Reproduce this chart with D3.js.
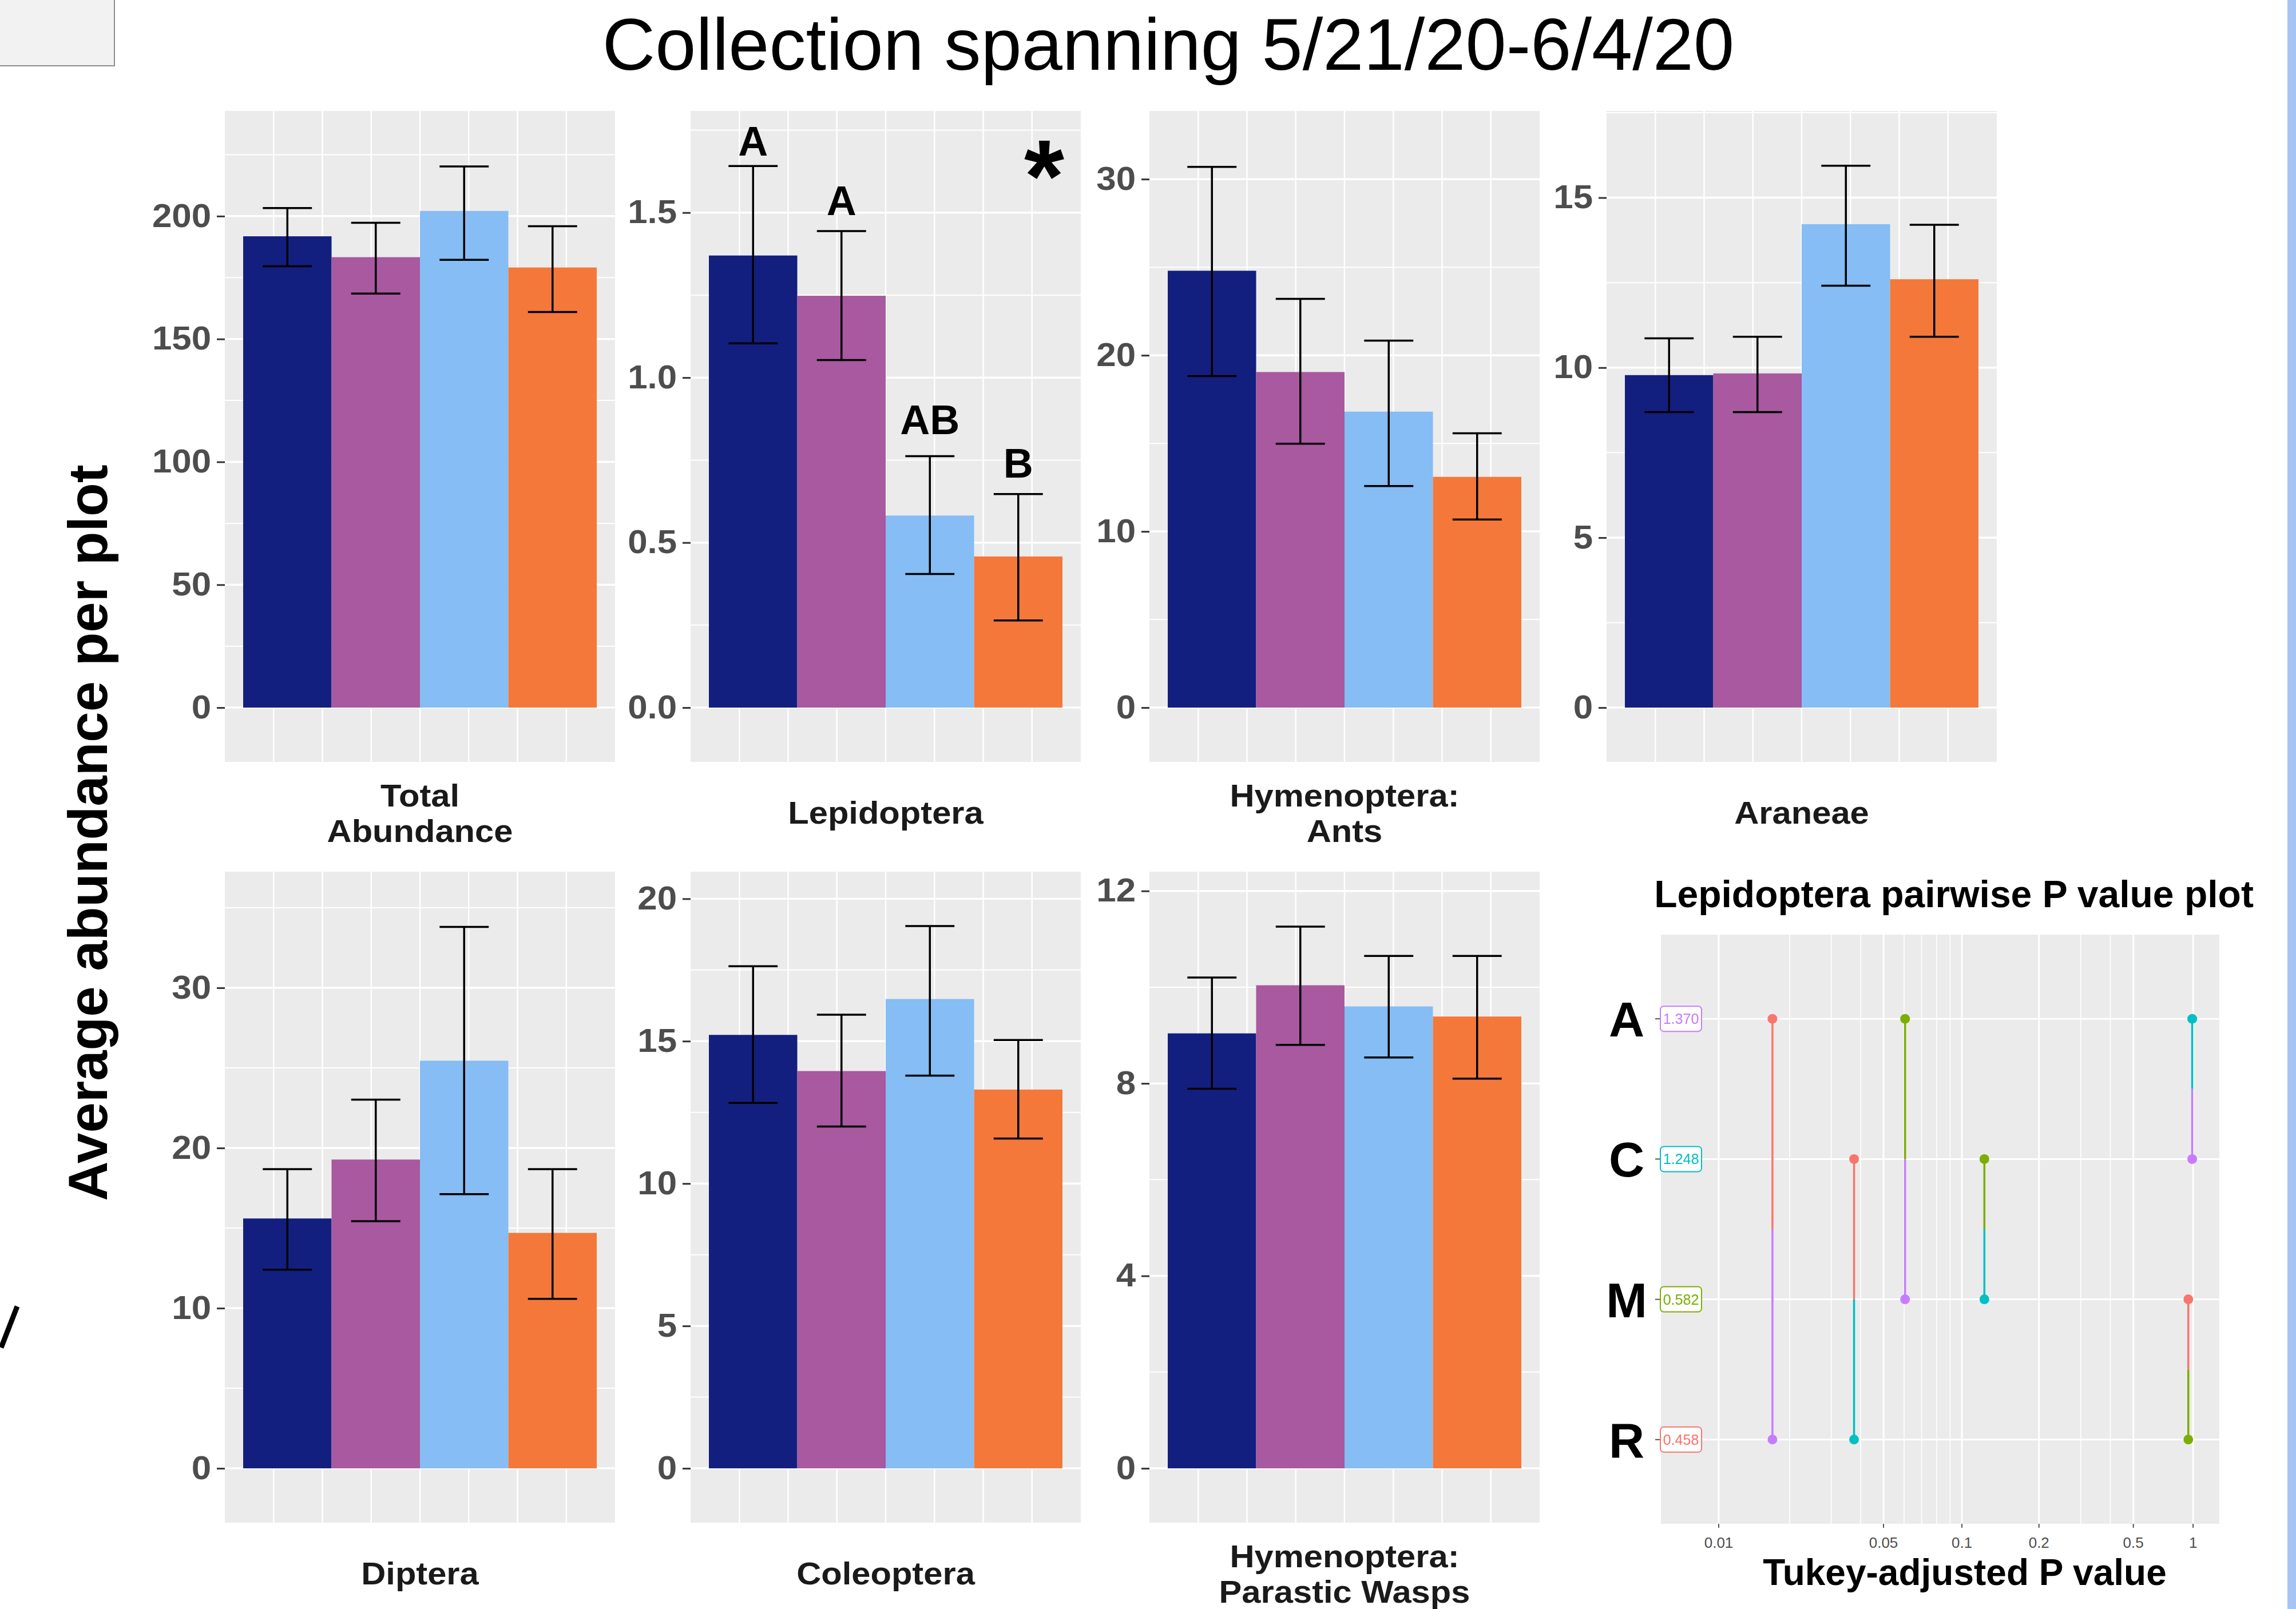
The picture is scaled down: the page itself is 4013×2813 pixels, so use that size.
<!DOCTYPE html>
<html>
<head>
<meta charset="utf-8">
<script src="https://cdn.jsdelivr.net/npm/d3@7"></script>
<style>
  body { margin: 0; background: #fff; }
  svg { display: block; font-family: 'Liberation Sans', Arial, sans-serif; }
</style>
</head>
<body>
<div id="chart"></div>
<script>
// treatments, in bar order
const groups = ['A', 'C', 'M', 'R'];
const taxa = ['Total|Abundance', 'Lepidoptera', 'Hymenoptera:|Ants', 'Araneae',
              'Diptera', 'Coleoptera', 'Hymenoptera:|Parastic Wasps'];

// mean abundance per plot, one row per taxon
const means = [
  [191.8, 183.3, 202.1, 179.1],
  [1.370, 1.248, 0.582, 0.458],
  [24.8, 19.05, 16.8, 13.1],
  [9.78, 9.83, 14.22, 12.6],
  [15.6, 19.28, 25.45, 14.7],
  [15.22, 13.95, 16.48, 13.3],
  [9.04, 10.04, 9.6, 9.39]
];
const errLow = [
  [179.6, 168.5, 182.2, 161.0],
  [1.104, 1.053, 0.405, 0.264],
  [18.82, 14.98, 12.58, 10.68],
  [8.69, 8.69, 12.41, 10.91],
  [12.4, 15.43, 17.12, 10.58],
  [12.83, 12.0, 13.79, 11.58],
  [7.89, 8.8, 8.54, 8.1]
];
const errHigh = [
  [203.3, 197.3, 220.2, 195.9],
  [1.641, 1.444, 0.762, 0.647],
  [30.7, 23.2, 20.83, 15.57],
  [10.86, 10.91, 15.94, 14.2],
  [18.68, 23.02, 33.8, 18.68],
  [17.63, 15.93, 19.04, 15.04],
  [10.2, 11.26, 10.65, 10.65]
];
// y tick labels and upper axis limit of each panel
const yTicks = [
  [0, 50, 100, 150, 200],
  [0, 0.5, 1.0, 1.5],
  [0, 10, 20, 30],
  [0, 5, 10, 15],
  [0, 10, 20, 30],
  [0, 5, 10, 15, 20],
  [0, 4, 8, 12]
];
const yTop = [242.8, 1.808, 33.87, 17.55, 37.25, 20.95, 12.4];

// Lepidoptera letters
const lepLetters = ['A', 'A', 'AB', 'B'];

// Tukey pairwise P values (Lepidoptera)
const pairFrom = ['A', 'C', 'A', 'C', 'A', 'M'];
const pairTo   = ['R', 'R', 'M', 'M', 'C', 'R'];
const pairP    = [0.0169, 0.0375, 0.0605, 0.1224, 0.990, 0.946];
const pTicks = [0.01, 0.05, 0.1, 0.2, 0.5, 1];
const pTickLabels = ['0.01', '0.05', '0.1', '0.2', '0.5', '1'];
const pMinor = [0.02, 0.03, 0.04, 0.06, 0.07, 0.08, 0.09, 0.3, 0.4];

// layout
const W = 4013, H = 2813;
const barColors = ['#131f7f', '#a8599f', '#85bdf4', '#f4783a'];
const hue = { A: '#c77cff', C: '#00bfc4', M: '#7cae00', R: '#f8766d' };
const colX = [393, 1207, 2009, 2808];
const rowY = [194, 1524];
const panelW = 682, panelH = 1138;
const zeroFrac = 0.9166;
const barInset = 32;
const letterLift = [18, 28, 38, 29];
const stretch = 1.085; // the pasted R plots are a little wider than tall
const font = "'Liberation Sans', Arial, sans-serif";

const svg = d3.select('#chart').append('svg')
  .attr('width', W)
  .attr('height', H);

// leftovers of the slide
svg.append('rect')
  .attr('x', -2).attr('y', -2).attr('width', 202).attr('height', 117)
  .attr('fill', '#f2f2f2').attr('stroke', '#8c8c8c').attr('stroke-width', 2);
svg.append('rect')
  .attr('x', 3998).attr('y', 0).attr('width', 15).attr('height', H)
  .attr('fill', '#a6c4f4');
svg.append('line')
  .attr('x1', 30).attr('y1', 2284).attr('x2', 2).attr('y2', 2356)
  .attr('stroke', '#000').attr('stroke-width', 9);

// title
svg.append('text')
  .attr('x', 2042).attr('y', 122)
  .attr('text-anchor', 'middle')
  .style('font-size', '128px')
  .text('Collection spanning 5/21/20-6/4/20');

// shared y title
svg.append('text')
  .attr('transform', 'translate(187,1456) rotate(-90)')
  .attr('text-anchor', 'middle')
  .style('font-size', '96px')
  .style('font-weight', 'bold')
  .text('Average abundance per plot');

taxa.forEach((name, i) => {
  const x0 = colX[i % 4];
  const y0 = rowY[Math.floor(i / 4)];
  const g = svg.append('g');

  const y = d3.scaleLinear()
    .domain([0, yTop[i]])
    .range([y0 + panelH * zeroFrac, y0]);
  const yMin = y.invert(y0 + panelH);

  const x = d3.scaleBand()
    .domain(groups)
    .range([x0 + barInset, x0 + panelW - barInset])
    .padding(0);
  const bw = x.bandwidth();

  // panel background and grid
  g.append('rect')
    .attr('x', x0).attr('y', y0)
    .attr('width', panelW).attr('height', panelH)
    .attr('fill', '#ebebeb');

  const ticks = yTicks[i];
  const step = ticks[1] - ticks[0];
  const minor = d3.range(-1, ticks.length)
    .map(k => ticks[0] + (k + 0.5) * step)
    .filter(v => v > yMin && v < yTop[i]);

  g.selectAll('.hmin').data(minor).join('line')
    .attr('x1', x0).attr('x2', x0 + panelW)
    .attr('y1', d => y(d)).attr('y2', d => y(d))
    .attr('stroke', '#fff').attr('stroke-width', 2);
  g.selectAll('.hmaj').data(ticks).join('line')
    .attr('x1', x0).attr('x2', x0 + panelW)
    .attr('y1', d => y(d)).attr('y2', d => y(d))
    .attr('stroke', '#fff').attr('stroke-width', 3.5);

  const xg = d3.scaleLinear().domain([0, 8]).range([x0, x0 + panelW]);
  g.selectAll('.vg').data(d3.range(1, 8)).join('line')
    .attr('x1', d => xg(d)).attr('x2', d => xg(d))
    .attr('y1', y0).attr('y2', y0 + panelH)
    .attr('stroke', '#fff').attr('stroke-width', 2.5);

  const rows = groups.map((grp, j) => ({
    grp, mean: means[i][j], lo: errLow[i][j], hi: errHigh[i][j], color: barColors[j]
  }));

  // bars
  g.selectAll('.bar').data(rows).join('rect')
    .attr('x', d => x(d.grp))
    .attr('y', d => y(d.mean))
    .attr('width', bw)
    .attr('height', d => y(0) - y(d.mean))
    .attr('fill', d => d.color);

  // error bars
  const capW = bw * 0.556;
  const eb = g.selectAll('.err').data(rows).join('g')
    .attr('stroke', '#000').attr('stroke-width', 3.5);
  eb.append('line')
    .attr('x1', d => x(d.grp) + bw / 2).attr('x2', d => x(d.grp) + bw / 2)
    .attr('y1', d => y(d.lo)).attr('y2', d => y(d.hi));
  eb.append('line')
    .attr('x1', d => x(d.grp) + bw / 2 - capW / 2).attr('x2', d => x(d.grp) + bw / 2 + capW / 2)
    .attr('y1', d => y(d.hi)).attr('y2', d => y(d.hi));
  eb.append('line')
    .attr('x1', d => x(d.grp) + bw / 2 - capW / 2).attr('x2', d => x(d.grp) + bw / 2 + capW / 2)
    .attr('y1', d => y(d.lo)).attr('y2', d => y(d.lo));

  // y axis
  const axis = g.append('g')
    .attr('transform', `translate(${x0},0)`)
    .call(d3.axisLeft(y)
      .tickValues(ticks)
      .tickSize(14)
      .tickPadding(8)
      .tickFormat(i === 1 ? d3.format('.1f') : d3.format('d')));
  axis.attr('font-size', 57).attr('font-family', font).attr('font-weight', 'bold');
  axis.select('.domain').remove();
  axis.selectAll('line').attr('stroke', '#333').attr('stroke-width', 3);
  axis.selectAll('text')
    .attr('fill', '#4d4d4d')
    .attr('transform', `scale(${stretch},1)`);

  // taxon label under the panel
  const lines = name.split('|');
  const base = y0 + panelH + (lines.length === 1 ? 108 : 77.5);
  g.selectAll('.lab').data(lines).join('text')
    .attr('transform', (d, k) => `translate(${x0 + panelW / 2},${base + k * 62}) scale(${stretch},1)`)
    .attr('text-anchor', 'middle')
    .style('font-size', '55px')
    .style('font-weight', 'bold')
    .attr('fill', '#1a1a1a')
    .text(d => d);

  if (i === 1) {
    g.selectAll('.letter').data(rows).join('text')
      .attr('x', d => x(d.grp) + bw / 2)
      .attr('y', (d, j) => y(d.hi) - letterLift[j])
      .attr('text-anchor', 'middle')
      .style('font-size', '72px')
      .style('font-weight', 'bold')
      .text((d, j) => lepLetters[j]);
    g.append('text')
      .attr('x', x0 + 618).attr('y', 370)
      .attr('text-anchor', 'middle')
      .style('font-size', '180px')
      .style('font-weight', 'bold')
      .text('*');
  }
});

// ---- Lepidoptera pairwise P value plot ----
const px0 = 2903, py0 = 1634, pw = 976, ph = 1030;
const pTickFrac = [0.1035, 0.3986, 0.539, 0.677, 0.846, 0.953];

const xP = d3.scaleLinear()
  .domain(pTicks.map(Math.log10))
  .range(pTickFrac.map(f => px0 + f * pw));
const yP = d3.scalePoint()
  .domain(groups)
  .range([py0, py0 + ph])
  .padding(0.6);

const pg = svg.append('g');

pg.append('text')
  .attr('x', 3415).attr('y', 1586)
  .attr('text-anchor', 'middle')
  .style('font-size', '66px')
  .style('font-weight', 'bold')
  .text('Lepidoptera pairwise P value plot');

pg.append('rect')
  .attr('x', px0).attr('y', py0)
  .attr('width', pw).attr('height', ph)
  .attr('fill', '#ebebeb');

pg.selectAll('.pmin').data(pMinor).join('line')
  .attr('x1', d => xP(Math.log10(d))).attr('x2', d => xP(Math.log10(d)))
  .attr('y1', py0).attr('y2', py0 + ph)
  .attr('stroke', '#fff').attr('stroke-width', 1.6);
pg.selectAll('.pmaj').data(pTicks).join('line')
  .attr('x1', d => xP(Math.log10(d))).attr('x2', d => xP(Math.log10(d)))
  .attr('y1', py0).attr('y2', py0 + ph)
  .attr('stroke', '#fff').attr('stroke-width', 3);
pg.selectAll('.prow').data(groups).join('line')
  .attr('x1', px0).attr('x2', px0 + pw)
  .attr('y1', d => yP(d)).attr('y2', d => yP(d))
  .attr('stroke', '#fff').attr('stroke-width', 3);

// comparisons: each half and end dot takes the colour of the other group
const pairs = pairP.map((p, k) => ({ p, from: pairFrom[k], to: pairTo[k] }));
pairs.forEach(d => {
  const xx = xP(Math.log10(d.p));
  const ya = yP(d.from), yb = yP(d.to), ym = (ya + yb) / 2;
  pg.append('line').attr('x1', xx).attr('x2', xx).attr('y1', ya).attr('y2', ym)
    .attr('stroke', hue[d.to]).attr('stroke-width', 3.5);
  pg.append('line').attr('x1', xx).attr('x2', xx).attr('y1', ym).attr('y2', yb)
    .attr('stroke', hue[d.from]).attr('stroke-width', 3.5);
  pg.append('circle').attr('cx', xx).attr('cy', ya).attr('r', 8.5).attr('fill', hue[d.to]);
  pg.append('circle').attr('cx', xx).attr('cy', yb).attr('r', 8.5).attr('fill', hue[d.from]);
});

// y axis: group letters, ticks and boxed means
pg.selectAll('.ptick').data(groups).join('line')
  .attr('x1', px0 - 10).attr('x2', px0)
  .attr('y1', d => yP(d)).attr('y2', d => yP(d))
  .attr('stroke', '#555').attr('stroke-width', 2);
pg.selectAll('.pbox').data(groups).join('rect')
  .attr('x', px0 - 1).attr('y', d => yP(d) - 22)
  .attr('width', 72).attr('height', 44)
  .attr('rx', 6)
  .attr('fill', '#fff')
  .attr('stroke', d => hue[d]).attr('stroke-width', 2);
pg.selectAll('.pval').data(groups).join('text')
  .attr('x', px0 + 35).attr('y', d => yP(d))
  .attr('dy', '0.36em')
  .attr('text-anchor', 'middle')
  .attr('fill', d => hue[d])
  .style('font-size', '25px')
  .text((d, j) => d3.format('.3f')(means[1][j]));
pg.selectAll('.pgrp').data(groups).join('text')
  .attr('x', 2843).attr('y', d => yP(d))
  .attr('dy', '0.36em')
  .attr('text-anchor', 'middle')
  .style('font-size', '86px')
  .style('font-weight', 'bold')
  .text(d => d);

// x axis
pg.selectAll('.pxt').data(pTicks).join('line')
  .attr('x1', d => xP(Math.log10(d))).attr('x2', d => xP(Math.log10(d)))
  .attr('y1', py0 + ph).attr('y2', py0 + ph + 7)
  .attr('stroke', '#555').attr('stroke-width', 2);
pg.selectAll('.pxl').data(pTicks).join('text')
  .attr('x', d => xP(Math.log10(d))).attr('y', py0 + ph + 42)
  .attr('text-anchor', 'middle')
  .attr('fill', '#4d4d4d')
  .style('font-size', '26px')
  .text((d, k) => pTickLabels[k]);
pg.append('text')
  .attr('x', 3434).attr('y', 2771)
  .attr('text-anchor', 'middle')
  .style('font-size', '64px')
  .style('font-weight', 'bold')
  .text('Tukey-adjusted P value');
</script>
</body>
</html>
